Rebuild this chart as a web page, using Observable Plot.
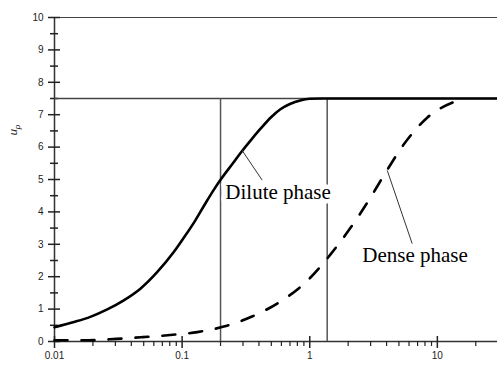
<!DOCTYPE html>
<html><head><meta charset="utf-8">
<script src="https://cdn.jsdelivr.net/npm/d3@7"></script>
<script src="https://cdn.jsdelivr.net/npm/@observablehq/plot@0.6"></script>
<style>
body{margin:0;background:#fff}
#chart svg{display:block;background:#fff}
</style>
</head><body><div id="chart"></div>
<script>
// Dilute phase (solid curve)
const diluteX = [0.01, 0.0142, 0.0191, 0.0259, 0.0349, 0.0471, 0.0637, 0.086, 0.103, 0.127, 0.15, 0.177, 0.2, 0.25, 0.295, 0.35, 0.41, 0.5, 0.589, 0.7, 0.843, 1.0, 1.25, 2, 5, 10, 29.6];
const diluteY = [0.44, 0.6, 0.76, 0.99, 1.27, 1.63, 2.14, 2.76, 3.2, 3.74, 4.22, 4.68, 4.99, 5.5, 5.88, 6.24, 6.56, 6.93, 7.17, 7.33, 7.44, 7.49, 7.5, 7.5, 7.5, 7.5, 7.5];
// Dense phase (dashed curve)
const denseX = [0.01, 0.0113, 0.0182, 0.0305, 0.0492, 0.0808, 0.1315, 0.212, 0.353, 0.571, 0.953, 1.45, 2.08, 2.98, 3.91, 5.43, 8.28, 13.8, 16];
const denseY = [0.04, 0.04, 0.04, 0.08, 0.135, 0.2, 0.29, 0.46, 0.77, 1.2, 1.87, 2.68, 3.5, 4.43, 5.2, 6.07, 6.9, 7.41, 7.5];

const xMajorTicks = [0.01, 0.1, 1, 10];
const xMinorTicks = [0.02,0.03,0.04,0.05,0.06,0.07,0.08,0.09, 0.2,0.3,0.4,0.5,0.6,0.7,0.8,0.9, 2,3,4,5,6,7,8,9, 20];
const yMajorTicks = [0,1,2,3,4,5,6,7,8,9,10];
const yMinorTicks = [0.5,1.5,2.5,3.5,4.5,5.5,6.5,7.5,8.5,9.5];

const plateau = [7.5];
const boundaries = [0.2, 1.37];

const labelText = ["Dilute phase", "Dense phase"];
const labelX = [0.218, 2.58];
const labelY = [4.61, 2.65];
const leaderX1 = [0.295, 4.05];
const leaderY1 = [5.9, 5.28];
const leaderX2 = [0.424, 6.35];
const leaderY2 = [4.98, 3.02];

const dilute = diluteX.map((x, i) => ({x, y: diluteY[i]}));
const dense = denseX.map((x, i) => ({x, y: denseY[i]}));
const labels = labelText.map((t, i) => ({t, x: labelX[i], y: labelY[i]}));
const leaders = leaderX1.map((x1, i) => ({x1, y1: leaderY1[i], x2: leaderX2[i], y2: leaderY2[i]}));

const tickFont = "Liberation Sans, Arial, sans-serif";

const chart = Plot.plot({
  width: 497,
  height: 372,
  marginLeft: 54,
  marginRight: 0,
  marginTop: 17,
  marginBottom: 31,
  style: {fontFamily: tickFont, color: "#222", background: "#fff"},
  x: {type: "log", domain: [0.01, 29.6], axis: null},
  y: {domain: [0, 10], axis: null},
  marks: [
    Plot.ruleX([0.01], {stroke: "#333", strokeWidth: 1.5}),
    Plot.ruleY([0], {stroke: "#333", strokeWidth: 1.5}),
    Plot.ruleY([10], {stroke: "#444", strokeWidth: 1.2}),
    Plot.axisY(yMajorTicks, {anchor: "left", tickSize: 6, tickPadding: 5, fontSize: 10, tickFormat: d => String(d), label: null, strokeWidth: 1.5}),
    Plot.axisY(yMajorTicks, {anchor: "left", tickSize: 6, dx: 6, text: null, label: null, strokeWidth: 1.5}),
    Plot.axisY(yMinorTicks, {anchor: "left", tickSize: 4, text: null, label: null, strokeWidth: 1.5}),
    Plot.axisY(yMinorTicks, {anchor: "left", tickSize: 4, dx: 4, text: null, label: null, strokeWidth: 1.5}),
    Plot.axisX(xMajorTicks, {anchor: "bottom", tickSize: 7, tickPadding: 3, fontSize: 10, tickFormat: d => String(d), label: null, strokeWidth: 1.5}),
    Plot.axisX(xMajorTicks, {anchor: "bottom", tickSize: 5, dy: -5, text: null, label: null, strokeWidth: 1.5}),
    Plot.axisX(xMinorTicks, {anchor: "bottom", tickSize: 5, text: null, label: null, strokeWidth: 1.2}),
    Plot.ruleY(plateau, {stroke: "#444", strokeWidth: 1.3}),
    Plot.ruleX(boundaries, {y1: 0, y2: 7.5, stroke: "#555", strokeWidth: 1.5}),
    Plot.line(dense, {x: "x", y: "y", stroke: "#000", strokeWidth: 2.6, strokeDasharray: "13,14", curve: "monotone-x"}),
    Plot.line(dilute, {x: "x", y: "y", stroke: "#000", strokeWidth: 2.6, curve: "monotone-x"}),
    Plot.link(leaders, {x1: "x1", y1: "y1", x2: "x2", y2: "y2", stroke: "#333", strokeWidth: 1}),
    Plot.text(labels, {x: "x", y: "y", text: "t", textAnchor: "start", lineAnchor: "middle", fontFamily: "Liberation Serif, Times New Roman, serif", fontSize: 21, fill: "#000", stroke: "#fff", strokeWidth: 9})
  ]
});

const svg = d3.select(chart);
const ylab = svg.append("text")
  .attr("transform", "translate(17,130) rotate(-90)")
  .attr("text-anchor", "middle")
  .attr("font-family", tickFont)
  .attr("font-size", 11)
  .attr("fill", "#222");
ylab.append("tspan").attr("font-style", "italic").text("u");
ylab.append("tspan").attr("font-style", "italic").attr("font-size", 8).attr("dy", "3").text("p");

document.getElementById("chart").appendChild(chart);
</script>
</body></html>
